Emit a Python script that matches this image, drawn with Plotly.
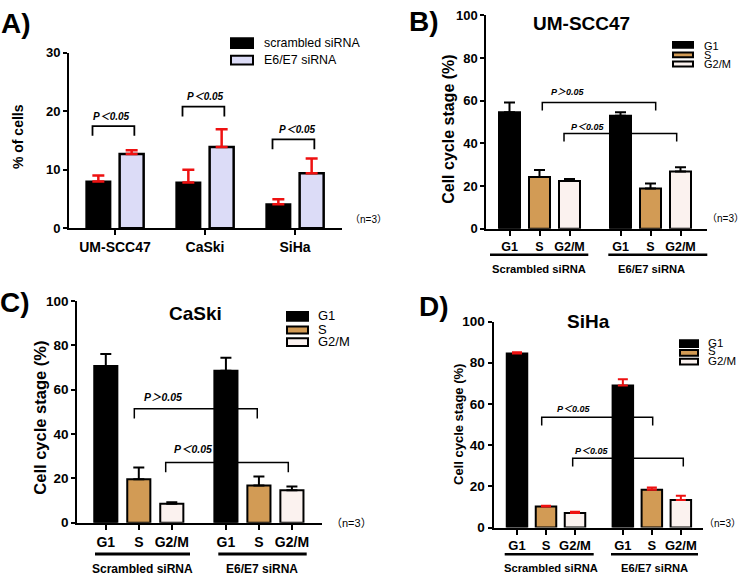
import plotly.graph_objects as go

W, H = 746, 585

# ---------------- data ----------------
# Panel A
cell_lines = ["UM-SCC47", "CaSki", "SiHa"]
scrambled_pct = [8.0, 7.8, 4.1]
scrambled_err = [1.0, 2.2, 0.85]
e6e7_pct = [12.7, 13.9, 9.4]
e6e7_err = [0.65, 3.0, 2.5]

# Panels B-D (cell cycle phases)
phases = ["G1", "S", "G2/M"]
groups = ["Scrambled siRNA", "E6/E7 siRNA"]

umscc47_scr = [54.6, 24.3, 22.4]
umscc47_scr_err = [4.6, 3.3, 0.9]
umscc47_e6 = [53.0, 18.9, 26.9]
umscc47_e6_err = [1.6, 2.3, 1.9]

caski_scr = [70.7, 19.6, 8.6]
caski_scr_err = [5.4, 5.3, 0.6]
caski_e6 = [68.5, 16.8, 14.6]
caski_e6_err = [5.9, 4.0, 1.7]

siha_scr = [84.5, 10.2, 7.1]
siha_scr_err = [0.6, 0.4, 0.6]
siha_e6 = [69.0, 18.4, 13.4]
siha_e6_err = [3.0, 1.0, 2.0]

# ---------------- styles ----------------
FONT = "Liberation Sans, Arial, Noto Sans CJK SC, sans-serif"
BLACK = "#000000"
TAN = "#d29b55"
PALE = "#fbf2ef"
LAVENDER = "#dcdcf7"
RED = "#ee1111"
phase_colors = [BLACK, TAN, PALE]


def PX(p):
    return p / W


def PY(p):
    return 1 - p / H


fig = go.Figure()
annotations = []
shapes = []


def axis_pair(n, left, right, top, bottom, xrange, yrange, ytickvals,
              xtickvals, xticktext, ytick_size, xtick_size):
    sfx = "" if n == 1 else str(n)
    fig.layout["xaxis" + sfx] = dict(
        domain=[PX(left), PX(right)], range=xrange, anchor="y" + sfx,
        showline=True, linewidth=2, linecolor=BLACK, ticks="outside",
        ticklen=5, tickwidth=2, tickcolor=BLACK, tickvals=xtickvals,
        ticktext=xticktext, showgrid=False, zeroline=False,
        tickfont=dict(family=FONT, size=xtick_size, color=BLACK, weight="bold"),
        fixedrange=True)
    fig.layout["yaxis" + sfx] = dict(
        domain=[PY(bottom), PY(top)], range=yrange, anchor="x" + sfx,
        showline=True, linewidth=2, linecolor=BLACK, ticks="outside",
        ticklen=4, tickwidth=2, tickcolor=BLACK, tickvals=ytickvals,
        showgrid=False, zeroline=False,
        tickfont=dict(family=FONT, size=ytick_size, color=BLACK, weight="bold"),
        fixedrange=True)


def text(x, y, s, size, bold=True, italic=False, angle=0, xanchor="center"):
    annotations.append(dict(
        x=PX(x), y=PY(y), xref="paper", yref="paper", text=s, showarrow=False,
        xanchor=xanchor, yanchor="middle", textangle=angle,
        font=dict(family=FONT, size=size, color=BLACK,
                  weight="bold" if bold else "normal",
                  style="italic" if italic else "normal")))


def bracket(n, x1, x2, h, leg, width=1.5):
    sfx = "" if n == 1 else str(n)
    fig.add_trace(go.Scatter(
        x=[x1, x1, x2, x2], y=[leg, h, h, leg], mode="lines",
        line=dict(color=BLACK, width=width), hoverinfo="skip",
        showlegend=False, xaxis="x" + sfx, yaxis="y" + sfx))


def swatch(x0, x1, y0, y1, color):
    shapes.append(dict(type="rect", xref="paper", yref="paper",
                       x0=PX(x0), x1=PX(x1), y0=PY(y1), y1=PY(y0),
                       fillcolor=color, line=dict(color=BLACK, width=2)))


def hline(x0, x1, y, width=2.5):
    shapes.append(dict(type="line", xref="paper", yref="paper",
                       x0=PX(x0), x1=PX(x1), y0=PY(y), y1=PY(y),
                       line=dict(color=BLACK, width=width)))


# ---------------- Panel A ----------------
a_unit, a_c0 = 90.0, 115.0
a_off, a_w = 0.185, 0.267
a_x = list(range(len(cell_lines)))
axis_pair(1, 69, 342, 47, 227,
          [(69 - a_c0) / a_unit, (342 - a_c0) / a_unit], [0, 30],
          [0, 10, 20, 30], a_x, cell_lines, 13, 14)
fig.add_trace(go.Bar(
    x=[i - a_off for i in a_x], y=scrambled_pct, width=a_w,
    marker=dict(color=BLACK, line=dict(color=BLACK, width=2)),
    error_y=dict(type="data", array=scrambled_err,
                 arrayminus=[0] * len(a_x), symmetric=False,
                 color=RED, thickness=2.5, width=6),
    name="scrambled siRNA", showlegend=False, xaxis="x", yaxis="y"))
fig.add_trace(go.Bar(
    x=[i + a_off for i in a_x], y=e6e7_pct, width=a_w,
    marker=dict(color=LAVENDER, line=dict(color=BLACK, width=2.5)),
    error_y=dict(type="data", array=e6e7_err,
                 arrayminus=[0] * len(a_x), symmetric=False,
                 color=RED, thickness=2.5, width=6),
    name="E6/E7 siRNA", showlegend=False, xaxis="x", yaxis="y"))
# significance brackets (height, leg bottom)
a_brackets = [(17.45, 15.8), (20.8, 19.1), (15.2, 13.5)]
for i, (h, leg) in zip(a_x, a_brackets):
    bracket(1, i - 0.25, i + 0.215, h, leg, width=1.8)
for (cx, cy) in [(112, 112.3), (205.7, 92), (297, 125.3)]:
    text(cx, cy, "P＜0.05", 10, bold=True, italic=True)
text(16, 17, "A)", 28)
text(17.5, 133, "% of cells", 14, angle=-90)
swatch(231, 253, 32, 42, BLACK)
swatch(231, 253, 50, 59, LAVENDER)
text(262, 37, "scrambled siRNA", 12.4, bold=False, xanchor="left")
text(262, 54.5, "E6/E7 siRNA", 12.4, bold=False, xanchor="left")
text(368, 218, "（n=3）", 10, bold=False)


# ---------------- Panels B-D ----------------
def phase_panel(n, left, right, top, bottom, unit, c0, gap, bw, scr, scr_err,
                e6, e6_err, err_color, err_th, err_w, ytick_size, xtick_size):
    sfx = "" if n == 1 else str(n)
    pos = [j + g * gap for g in range(len(groups)) for j in range(len(phases))]
    axis_pair(n, left, right, top, bottom,
              [(left - c0) / unit, (right - c0) / unit], [0, 100],
              [0, 20, 40, 60, 80, 100], pos, phases * len(groups),
              ytick_size, xtick_size)
    for j, ph in enumerate(phases):
        fig.add_trace(go.Bar(
            x=[j, j + gap], y=[scr[j], e6[j]], width=bw,
            marker=dict(color=phase_colors[j], line=dict(color=BLACK, width=2)),
            error_y=dict(type="data", array=[scr_err[j], e6_err[j]],
                         arrayminus=[0, 0], symmetric=False,
                         color=err_color, thickness=err_th, width=err_w),
            name=ph, showlegend=False, xaxis="x" + sfx, yaxis="y" + sfx))


# B : UM-SCC47
phase_panel(2, 486.3, 707, 8.5, 227.7, 30.0, 509.5, 3.7, 0.7,
            umscc47_scr, umscc47_scr_err, umscc47_e6, umscc47_e6_err,
            BLACK, 2, 5.5, 13, 12.5)
bracket(2, 1.093, 4.873, 59.2, 55.4)
bracket(2, 1.817, 5.573, 44.7, 40.9)
text(568.3, 87.3, "P＞0.05", 9, italic=True)
text(588.3, 122.7, "P＜0.05", 9, italic=True)
text(424, 15, "B)", 28)
text(581, 17, "UM-SCC47", 19)
text(449, 125, "Cell cycle stage (%)", 16, angle=-90)
for (y0, y1, yc, c, lab) in [(36, 41.7, 39.7, BLACK, "G1"),
                             (46.7, 51.7, 49, TAN, "S"),
                             (56, 61, 58.3, PALE, "G2/M")]:
    swatch(673, 693, y0, y1, c)
    text(702, yc, lab, 11, bold=False, xanchor="left")
hline(490, 588.3, 254.3)
hline(608.3, 707.3, 254.3)
text(539.3, 269, "Scrambled siRNA", 11.2)
text(651.7, 269, "E6/E7 siRNA", 11.2)
text(746, 217, "（n=3）", 10, bold=False, xanchor="right")

# C : CaSki
phase_panel(3, 77.3, 322, 301.7, 529.3, 33.0, 105.8, 3.64, 0.7,
            caski_scr, caski_scr_err, caski_e6, caski_e6_err,
            BLACK, 2, 5.5, 13.5, 14)
bracket(3, 0.864, 4.59, 51.4, 47.0)
bracket(3, 1.815, 5.53, 27.2, 22.8)
text(163.3, 400, "P＞0.05", 10.5, italic=True)
text(193.3, 454, "P＜0.05", 10.5, italic=True)
text(15, 303, "C)", 28)
text(195, 315, "CaSki", 19)
text(40.5, 422, "Cell cycle stage (%)", 16.5, angle=-90)
for (y0, y1, yc, c, lab) in [(313, 322, 316.7, BLACK, "G1"),
                             (328, 335, 331, TAN, "S"),
                             (340, 348, 343.3, PALE, "G2/M")]:
    swatch(287, 308, y0, y1, c)
    text(316, yc, lab, 13, bold=False, xanchor="left")
hline(95, 190, 561.5, 3)
hline(218.3, 306.7, 561.5, 3)
text(142.7, 576.5, "Scrambled siRNA", 12)
text(261.7, 576.5, "E6/E7 siRNA", 12)
text(351, 530, "（n=3）", 11, bold=False)

# D : SiHa
phase_panel(4, 493.5, 703, 322.8, 534.3, 29.0, 517.0, 3.65, 0.707,
            siha_scr, siha_scr_err, siha_e6, siha_e6_err,
            RED, 2, 5, 13.5, 13)
bracket(4, 0.852, 4.679, 53.6, 49.6)
bracket(4, 1.92, 5.734, 33.6, 29.6)
text(574.3, 412.7, "P＜0.05", 9, italic=True)
text(591.7, 455.3, "P＜0.05", 9, italic=True)
text(434, 307, "D)", 28)
text(588, 323, "SiHa", 19)
text(459, 429, "Cell cycle stage (%)", 13, angle=-90)
for (y0, y1, yc, c, lab) in [(342, 349, 345, BLACK, "G1"),
                             (352, 358, 353.5, TAN, "S"),
                             (361, 367, 363.3, PALE, "G2/M")]:
    swatch(680, 698, y0, y1, c)
    text(706, yc, lab, 11.5, bold=False, xanchor="left")
hline(504.7, 593.7, 561.7)
hline(611, 698, 561.7)
text(551.3, 576, "Scrambled siRNA", 11.2)
text(654.7, 576, "E6/E7 siRNA", 11.2)
text(722, 530, "（n=3）", 10, bold=False)

fig.update_layout(
    width=W, height=H, margin=dict(l=0, r=0, t=0, b=0),
    paper_bgcolor="white", plot_bgcolor="white", barmode="overlay",
    showlegend=False, annotations=annotations, shapes=shapes,
    font=dict(family=FONT, color=BLACK))

fig.write_html(
    "out.html",
    config={"displayModeBar": False, "staticPlot": True},
    post_script="document.body.style.margin='0';document.body.style.padding='0';")
